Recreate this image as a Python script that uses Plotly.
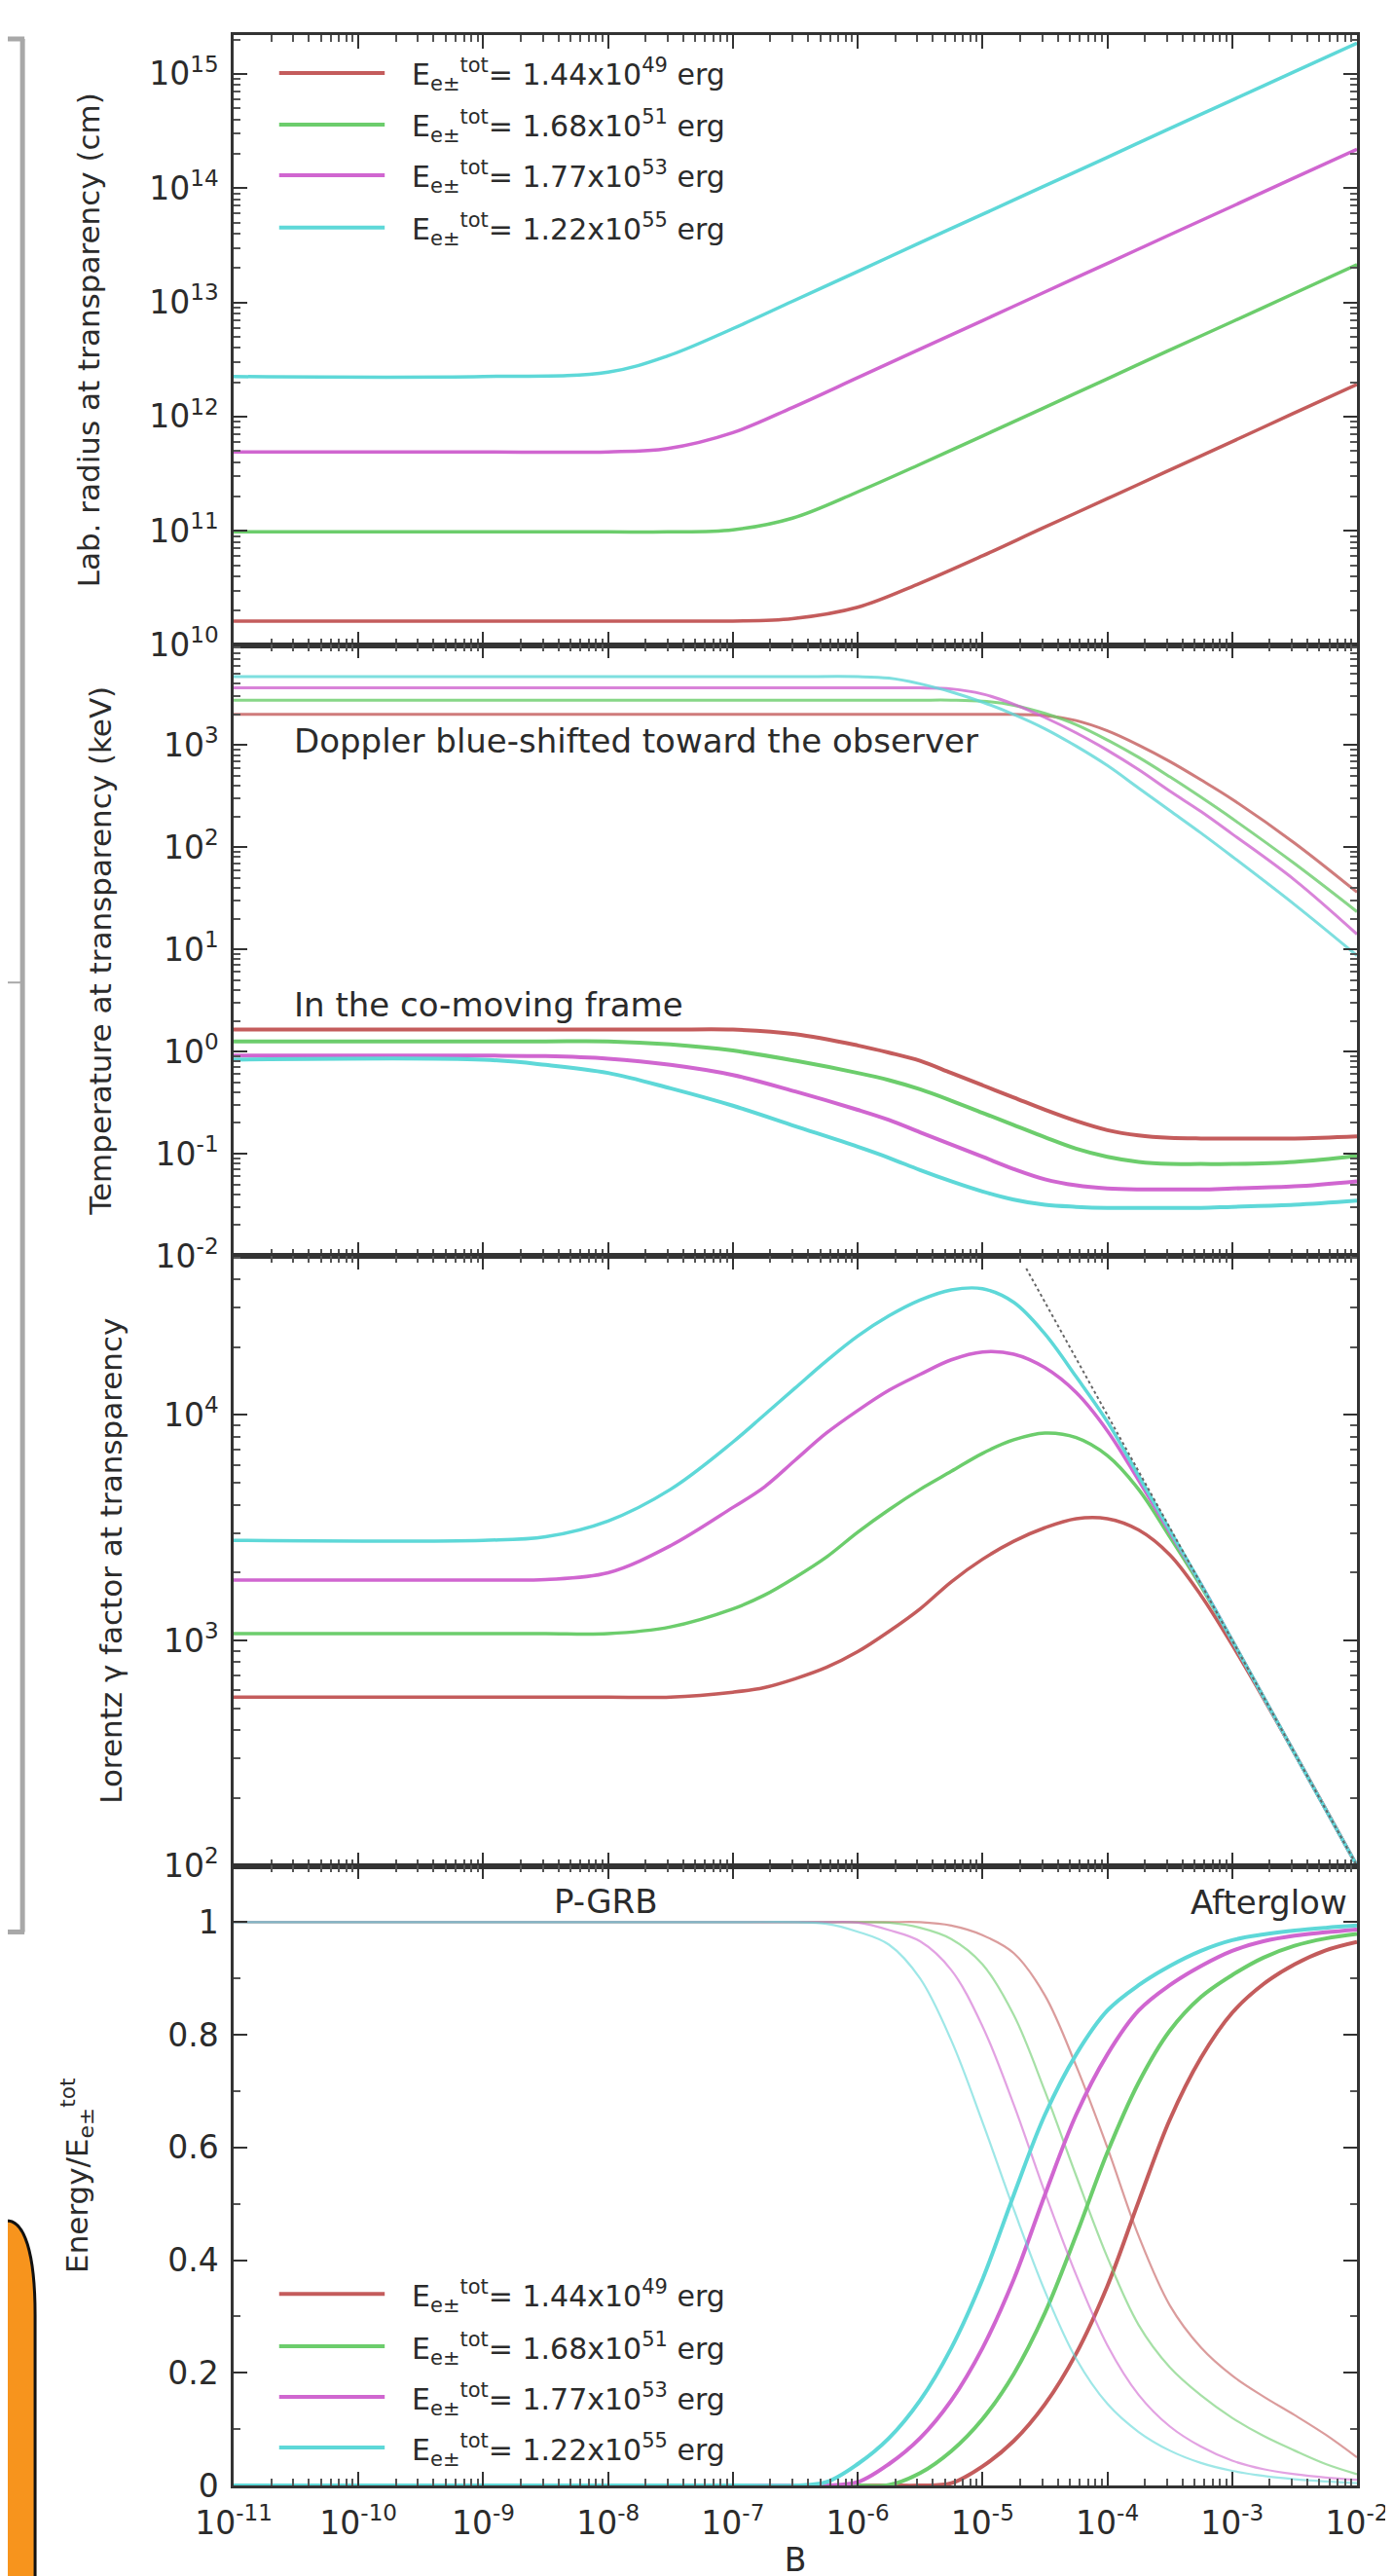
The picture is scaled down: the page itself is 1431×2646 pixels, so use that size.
import plotly.graph_objects as go
from plotly.subplots import make_subplots

# ---------------- data ----------------
series_labels = [
    "E<sub>e±</sub><sup>tot</sup>= 1.44x10<sup>49</sup> erg",
    "E<sub>e±</sub><sup>tot</sup>= 1.68x10<sup>51</sup> erg",
    "E<sub>e±</sub><sup>tot</sup>= 1.77x10<sup>53</sup> erg",
    "E<sub>e±</sub><sup>tot</sup>= 1.22x10<sup>55</sup> erg",
]
series_colors = ["#c45c5c", "#6ccd6c", "#d066d0", "#5ed8d8"]

# Panel 1: lab. radius at transparency (cm)
B_radius = [1e-11, 1e-9, 1e-8, 3e-8, 1e-7, 3e-7, 1e-6, 3e-6, 1e-5, 3e-5, 1e-4, 3e-4, 1e-3, 3e-3, 1e-2]
radius_E49 = [1.62e10, 1.62e10, 1.62e10, 1.62e10, 1.62e10, 1.70e10, 2.14e10, 3.39e10, 6.03e10, 1.05e11, 1.91e11, 3.31e11, 6.03e11, 1.05e12, 1.91e12]
radius_E51 = [9.77e10, 9.77e10, 9.77e10, 9.77e10, 1.02e11, 1.29e11, 2.19e11, 3.72e11, 6.76e11, 1.17e12, 2.14e12, 3.72e12, 6.76e12, 1.17e13, 2.14e13]
radius_E53 = [4.90e11, 4.90e11, 4.90e11, 5.25e11, 7.24e11, 1.20e12, 2.19e12, 3.80e12, 6.92e12, 1.20e13, 2.19e13, 3.80e13, 6.92e13, 1.20e14, 2.19e14]
radius_E55 = [2.24e12, 2.24e12, 2.45e12, 3.39e12, 5.89e12, 1.02e13, 1.86e13, 3.24e13, 5.89e13, 1.02e14, 1.86e14, 3.24e14, 5.89e14, 1.02e15, 1.86e15]

# Panel 2: temperature at transparency (keV)
B_temp = [1e-11, 1e-9, 3.16e-9, 1e-8, 3.16e-8, 1e-7, 3.16e-7, 1e-6, 1.78e-6, 3.16e-6, 5.62e-6,
          1e-5, 1.78e-5, 3.16e-5, 5.62e-5, 1e-4, 1.78e-4, 3.16e-4, 5.62e-4, 1e-3, 3.16e-3, 1e-2]
T_obs_E49 = [1995, 1995, 1995, 1995, 1995, 1995, 1995, 1995, 1995, 1995, 1995, 1995, 1995, 1950, 1738, 1380, 1000, 692, 457, 295, 110, 36.3]
T_obs_E51 = [2754, 2754, 2754, 2754, 2754, 2754, 2754, 2754, 2754, 2754, 2754, 2692, 2455, 2042, 1585, 1122, 759, 490, 309, 191, 69.2, 23.4]
T_obs_E53 = [3631, 3631, 3631, 3631, 3631, 3631, 3631, 3631, 3631, 3631, 3548, 3162, 2512, 1862, 1318, 891, 575, 355, 224, 135, 47.9, 14.1]
T_obs_E55 = [4677, 4677, 4677, 4677, 4677, 4677, 4677, 4677, 4519, 3981, 3311, 2630, 1995, 1445, 977, 631, 380, 229, 138, 81.3, 27.5, 8.71]
T_com_E49 = [1.64, 1.64, 1.64, 1.64, 1.64, 1.64, 1.479, 1.148, 0.977, 0.813, 0.617, 0.468, 0.355, 0.269, 0.209, 0.170, 0.151, 0.143, 0.141, 0.141, 0.141, 0.148]
T_com_E51 = [1.259, 1.259, 1.259, 1.259, 1.175, 1.023, 0.813, 0.617, 0.525, 0.427, 0.331, 0.251, 0.191, 0.145, 0.112, 0.0933, 0.0832, 0.0794, 0.0794, 0.0794, 0.0832, 0.0955]
T_com_E53 = [0.912, 0.912, 0.902, 0.851, 0.741, 0.589, 0.407, 0.269, 0.214, 0.162, 0.123, 0.0933, 0.0708, 0.0562, 0.049, 0.0457, 0.0447, 0.0447, 0.0447, 0.0457, 0.0479, 0.0537]
T_com_E55 = [0.832, 0.832, 0.741, 0.617, 0.437, 0.295, 0.186, 0.117, 0.0912, 0.0692, 0.0537, 0.0427, 0.0355, 0.0316, 0.0302, 0.0295, 0.0295, 0.0295, 0.0295, 0.0302, 0.0316, 0.0347]

# Panel 3: Lorentz gamma factor at transparency
B_gamma = [1e-11, 1e-9, 3.16e-9, 1e-8, 3.16e-8, 1e-7, 1.78e-7, 3.16e-7, 5.62e-7, 1e-6, 1.78e-6, 3.16e-6,
           5.62e-6, 1e-5, 1.78e-5, 3.16e-5, 5.62e-5, 1e-4, 1.78e-4, 3.16e-4, 5.62e-4, 1e-3, 3.16e-3, 1e-2]
gamma_E49 = [560, 560, 560, 560, 560, 589, 617, 676, 759, 891, 1096, 1380, 1820, 2291, 2754, 3162, 3467, 3467, 3090, 2399, 1585, 955, 316, 100]
gamma_E51 = [1072, 1072, 1072, 1072, 1148, 1380, 1585, 1905, 2344, 3020, 3802, 4677, 5623, 6761, 7762, 8318, 7943, 6607, 4677, 2884, 1738, 1000, 316, 100]
gamma_E53 = [1854, 1854, 1862, 1995, 2630, 3890, 4786, 6310, 8318, 10470, 12880, 15140, 17580, 19050, 18620, 16220, 12590, 8511, 5129, 3020, 1778, 1000, 316, 100]
gamma_E55 = [2780, 2780, 2884, 3388, 4677, 7586, 10000, 13180, 17380, 22390, 27540, 32360, 35890, 36310, 31620, 22910, 14790, 9333, 5370, 3090, 1778, 1000, 316, 100]
asym_B = [2.24e-5, 1e-2]
asym_gamma = [4.47e4, 1e2]

# Panel 4: energy fractions (P-GRB descending, afterglow rising)
B_energy = [1e-11, 1e-7, 3.16e-7, 5.62e-7, 1e-6, 1.78e-6, 3.16e-6, 5.62e-6, 1e-5, 1.78e-5, 3.16e-5,
            5.62e-5, 1e-4, 1.78e-4, 3.16e-4, 5.62e-4, 1e-3, 1.78e-3, 3.16e-3, 5.62e-3, 1e-2]
pgrb_E49 = [1, 1, 1, 1, 1, 1, 1.0, 0.994, 0.977, 0.945, 0.87, 0.745, 0.60, 0.443, 0.32, 0.245, 0.195, 0.158, 0.125, 0.09, 0.05]
pgrb_E51 = [1, 1, 1, 1, 1, 0.999, 0.99, 0.97, 0.925, 0.835, 0.70, 0.55, 0.405, 0.285, 0.21, 0.16, 0.12, 0.088, 0.062, 0.038, 0.02]
pgrb_E53 = [1, 1, 1, 1, 0.999, 0.986, 0.966, 0.915, 0.815, 0.676, 0.52, 0.374, 0.249, 0.161, 0.105, 0.069, 0.044, 0.029, 0.02, 0.014, 0.01]
pgrb_E55 = [1, 1, 1.0, 0.997, 0.983, 0.96, 0.90, 0.79, 0.645, 0.49, 0.345, 0.225, 0.145, 0.095, 0.062, 0.04, 0.026, 0.017, 0.011, 0.007, 0.004]
aft_E49 = [0, 0, 0, 0, 0, 0, 0, 0.004, 0.034, 0.079, 0.144, 0.234, 0.354, 0.504, 0.649, 0.759, 0.839, 0.89, 0.925, 0.95, 0.965]
aft_E51 = [0, 0, 0, 0, 0, 0.001, 0.022, 0.061, 0.118, 0.198, 0.306, 0.444, 0.591, 0.715, 0.807, 0.867, 0.906, 0.937, 0.958, 0.971, 0.979]
aft_E53 = [0, 0, 0, 0, 0.006, 0.038, 0.084, 0.151, 0.244, 0.366, 0.516, 0.658, 0.765, 0.843, 0.888, 0.922, 0.949, 0.966, 0.976, 0.982, 0.987]
aft_E55 = [0, 0, 0, 0.006, 0.038, 0.084, 0.151, 0.244, 0.366, 0.516, 0.658, 0.765, 0.843, 0.888, 0.922, 0.949, 0.968, 0.978, 0.985, 0.99, 0.994]

x_tick_exponents = list(range(-11, -1))

# ---------------- figure ----------------
W, H = 1431, 2646
ML, MR, MT, MB = 232, 39, 28, 99
FONT = "DejaVu Sans"
TXT = "#2b2b2b"
AX = "#333333"
SMOOTH = 1.0


def pxx(x):
    return (x - ML) / (W - ML - MR)


def pxy(y):
    return 1 - (y - MT) / (H - MT - MB)


fig = make_subplots(rows=4, cols=1, vertical_spacing=0, row_heights=[627, 628, 627, 637])

radius = [radius_E49, radius_E51, radius_E53, radius_E55]
t_obs = [T_obs_E49, T_obs_E51, T_obs_E53, T_obs_E55]
t_com = [T_com_E49, T_com_E51, T_com_E53, T_com_E55]
gammas = [gamma_E49, gamma_E51, gamma_E53, gamma_E55]
pgrb = [pgrb_E49, pgrb_E51, pgrb_E53, pgrb_E55]
aft = [aft_E49, aft_E51, aft_E53, aft_E55]


def ln(col, w):
    return dict(color=col, width=w, shape="spline", smoothing=SMOOTH)


for i in range(4):
    col = series_colors[i]
    fig.add_trace(go.Scatter(x=B_radius, y=radius[i], mode="lines", line=ln(col, 3.5),
                             showlegend=False, name=series_labels[i]), row=1, col=1)
    fig.add_trace(go.Scatter(x=B_temp, y=t_obs[i], mode="lines", line=ln(col, 3),
                             opacity=0.8, showlegend=False), row=2, col=1)
    fig.add_trace(go.Scatter(x=B_temp, y=t_com[i], mode="lines", line=ln(col, 4),
                             showlegend=False), row=2, col=1)
    fig.add_trace(go.Scatter(x=B_gamma, y=gammas[i], mode="lines", line=ln(col, 3.5),
                             showlegend=False), row=3, col=1)
    fig.add_trace(go.Scatter(x=B_energy, y=pgrb[i], mode="lines", line=ln(col, 2.2),
                             opacity=0.6, showlegend=False), row=4, col=1)
    fig.add_trace(go.Scatter(x=B_energy, y=aft[i], mode="lines", line=ln(col, 4),
                             showlegend=False), row=4, col=1)

fig.add_trace(go.Scatter(x=asym_B, y=asym_gamma, mode="lines", line=dict(color="#666666", width=2, dash="dot"),
                         showlegend=False), row=3, col=1)


def sup_label(e):
    return "10<sup>" + ("-" if e < 0 else "") + str(abs(e)) + "</sup>"


def minor_vals(e0, e1):
    return [m * 10.0 ** e for e in range(e0, e1) for m in range(2, 10)]


x_tickvals = [10.0 ** e for e in x_tick_exponents]
x_ticktext = [sup_label(e) for e in x_tick_exponents]

tickfont = dict(family=FONT, size=33, color=TXT)
titlefont = dict(family=FONT, size=31, color=TXT)

for r in range(1, 5):
    fig.update_xaxes(
        type="log", range=[-11, -2], tickmode="array", tickvals=x_tickvals, ticktext=x_ticktext,
        showticklabels=(r == 4), ticks="inside", ticklen=14, tickwidth=2, tickcolor=AX,
        showline=True, linewidth=2.5, linecolor=AX, mirror="ticks", showgrid=False, zeroline=False,
        tickfont=tickfont, ticklabelstandoff=8,
        minor=dict(tickmode="array", tickvals=minor_vals(-11, -2), ticks="inside", ticklen=7,
                   tickwidth=1.5, tickcolor="#555555", showgrid=False),
        row=r, col=1)

fig.update_xaxes(title=dict(text="B", font=dict(family=FONT, size=33, color=TXT), standoff=8), row=4, col=1)


def log_y(r, lo, hi, e_lo, e_hi, title, standoff):
    exps = list(range(e_lo, e_hi + 1))
    fig.update_yaxes(
        type="log", range=[lo, hi], tickmode="array", tickvals=[10.0 ** e for e in exps],
        ticktext=[sup_label(e) for e in exps], ticks="inside", ticklen=14, tickwidth=2, tickcolor=AX,
        showline=True, linewidth=2.5, linecolor=AX, mirror="ticks", showgrid=False, zeroline=False,
        tickfont=tickfont, ticklabelstandoff=6,
        minor=dict(tickmode="array", tickvals=minor_vals(e_lo - 1, e_hi + 1), ticks="inside", ticklen=7,
                   tickwidth=1.5, tickcolor="#555555", showgrid=False),
        title=dict(text=title, font=titlefont, standoff=standoff),
        row=r, col=1)


log_y(1, 10, 15.34, 10, 15, "Lab. radius at transparency (cm)", 42)
log_y(2, -2, 3.98, -2, 3, "Temperature at transparency (keV)", 36)
log_y(3, 2, 4.706, 2, 4, "Lorentz γ factor at transparency", 34)

fig.update_yaxes(
    type="linear", range=[0, 1.1], tickmode="array", tickvals=[0, 0.2, 0.4, 0.6, 0.8, 1.0],
    ticktext=["0", "0.2", "0.4", "0.6", "0.8", "1"], ticks="inside", ticklen=14, tickwidth=2, tickcolor=AX,
    showline=True, linewidth=2.5, linecolor=AX, mirror="ticks", showgrid=False, zeroline=False,
    tickfont=tickfont, ticklabelstandoff=6,
    minor=dict(tickmode="array", tickvals=[0.1, 0.3, 0.5, 0.7, 0.9, 1.1], ticks="inside", ticklen=7,
               tickwidth=1.5, tickcolor="#555555", showgrid=False),
    title=dict(text="Energy/E<sub>e±</sub><sup>tot</sup>", font=titlefont, standoff=73),
    row=4, col=1)

shapes = []
annotations = []

# legends (panel 1 and panel 4)
legend_rows = [[67, 120, 172, 226], [2350, 2404, 2456, 2508]]
for rows in legend_rows:
    for i, yrow in enumerate(rows):
        shapes.append(dict(type="line", xref="paper", yref="paper", x0=pxx(279), x1=pxx(388),
                           y0=pxy(yrow), y1=pxy(yrow), line=dict(color=series_colors[i], width=4)))
        annotations.append(dict(xref="paper", yref="paper", x=pxx(414), y=pxy(yrow + 2), xanchor="left",
                                yanchor="middle", text=series_labels[i], showarrow=False,
                                font=dict(family=FONT, size=30, color=TXT)))

# in-panel labels
annotations += [
    dict(xref="paper", yref="paper", x=pxx(292), y=pxy(754), xanchor="left", yanchor="middle",
         text="Doppler blue-shifted toward the observer", showarrow=False,
         font=dict(family=FONT, size=34, color=TXT)),
    dict(xref="paper", yref="paper", x=pxx(292), y=pxy(1025), xanchor="left", yanchor="middle",
         text="In the co-moving frame", showarrow=False, font=dict(family=FONT, size=34, color=TXT)),
    dict(xref="paper", yref="paper", x=pxx(616), y=pxy(1947), xanchor="center", yanchor="middle",
         text="P-GRB", showarrow=False, font=dict(family=FONT, size=34, color=TXT)),
    dict(xref="paper", yref="paper", x=pxx(1384), y=pxy(1948), xanchor="right", yanchor="middle",
         text="Afterglow", showarrow=False, font=dict(family=FONT, size=34, color=TXT)),
]

# page decorations at the left edge (neighbouring figure bracket, orange tab)
gray = "#a8a8a8"
shapes += [
    dict(type="line", xref="paper", yref="paper", x0=pxx(14), x1=pxx(14), y0=pxy(32), y1=pxy(1978),
         line=dict(color=gray, width=5)),
    dict(type="line", xref="paper", yref="paper", x0=pxx(-5), x1=pxx(16), y0=pxy(32), y1=pxy(32),
         line=dict(color=gray, width=5)),
    dict(type="line", xref="paper", yref="paper", x0=pxx(-5), x1=pxx(16), y0=pxy(1978), y1=pxy(1978),
         line=dict(color=gray, width=5)),
    dict(type="line", xref="paper", yref="paper", x0=pxx(-5), x1=pxx(14), y0=pxy(1002), y1=pxy(1002),
         line=dict(color=gray, width=2)),
]


def P(x, y):
    return f"{pxx(x):.5f},{pxy(y):.5f}"


orange_path = (f"M{P(-10, 2275)} L{P(0, 2275)} C{P(15, 2277)} {P(27, 2305)} {P(27, 2372)} "
               f"L{P(27, 2670)} L{P(-10, 2670)} Z")
shapes.append(dict(type="path", xref="paper", yref="paper", path=orange_path,
                   fillcolor="#f7941d", line=dict(color="#111111", width=3)))

fig.update_layout(
    width=W, height=H, margin=dict(l=ML, r=MR, t=MT, b=MB),
    paper_bgcolor="white", plot_bgcolor="white",
    font=dict(family=FONT, color=TXT),
    showlegend=False, shapes=shapes, annotations=annotations,
)

fig.write_html("out.html")
